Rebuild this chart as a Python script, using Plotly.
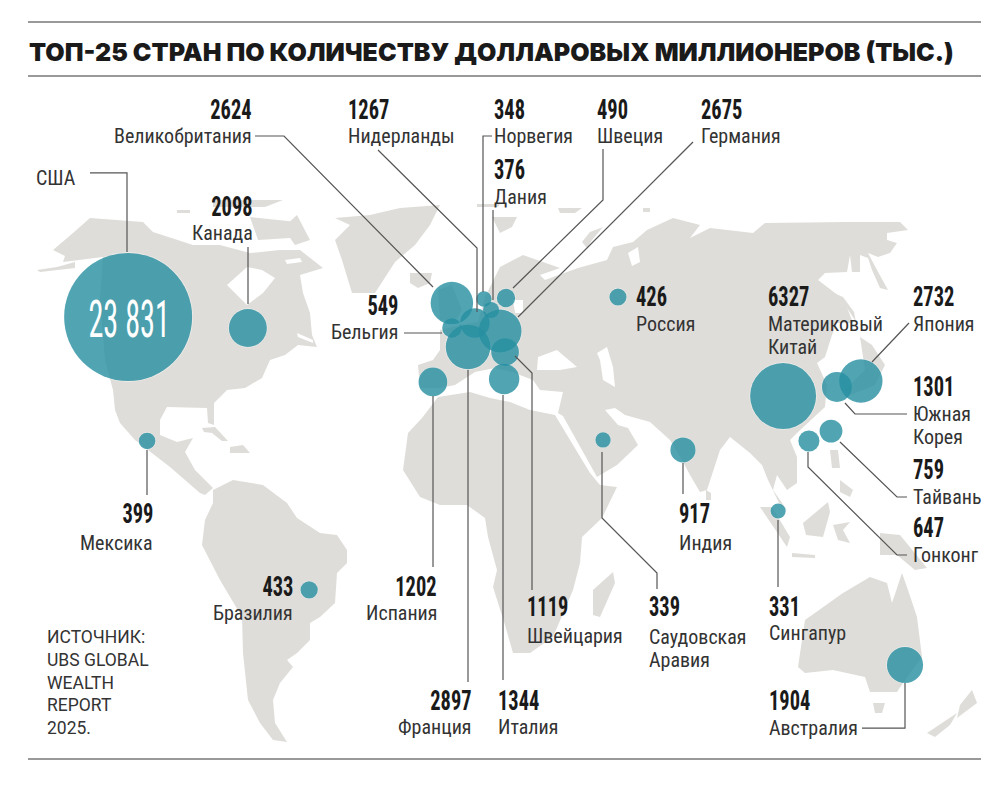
import numpy as np
import plotly.graph_objects as go

"""Top-25 countries by dollar millionaires, bubble map"""

countries = ["США", "Материковый\nКитай", "Франция", "Япония", "Германия", "Великобритания", "Канада",
             "Австралия", "Италия", "Южная\nКорея", "Нидерланды", "Испания", "Швейцария", "Индия",
             "Тайвань", "Гонконг", "Бельгия", "Швеция", "Бразилия", "Россия", "Мексика", "Дания",
             "Норвегия", "Саудовская\nАравия", "Сингапур"]
millionaires = [23831, 6327, 2897, 2732, 2675, 2624, 2098, 1904, 1344, 1301, 1267, 1202, 1119, 917,
                759, 647, 549, 490, 433, 426, 399, 376, 348, 339, 331]
lon = [-105.1, 105.5, 4.2, 130.5, 14.5, -1.0, -66.6, 144.7, 15.8, 122.8, 6.4, -7.1, 16.1, 73.3,
       120.9, 113.8, -1.0, 16.4, -46.9, 52.4, -99.0, 11.6, 9.3, 47.6, 103.9]
lat = [48.38, 31.2, 42.38, 34.78, 45.66, 50.96, 46.26, -40.22, 35.24, 33.38, 47.24, 34.56, 41.3, 17.18,
       22.26, 19.62, 46.26, 51.86, -22.0, 52.04, 19.62, 49.7, 51.68, 19.88, 0.0]

title_text = "ТОП-25 СТРАН ПО КОЛИЧЕСТВУ ДОЛЛАРОВЫХ МИЛЛИОНЕРОВ (ТЫС.)"
source_lines = ["ИСТОЧНИК:", "UBS GLOBAL", "WEALTH", "REPORT", "2025."]

W, H = 1000, 788
NARROW = "Roboto Condensed"


def merc(a):
    a = np.radians(np.asarray(a, dtype=float))
    return np.degrees(np.log(np.tan(np.pi / 4 + a / 2)))


def path(points, close=True):
    s = "M" + " L".join(f"{x / W:.4f},{1 - y / H:.4f}" for x, y in points)
    return s + (" Z" if close else "")


# land outlines, in page pixels
land = [
    # north america
    [(90,218),(143,222),(153,232),(193,245),(220,245),(250,253),(280,250),(300,250),(323,268),(300,275),(303,293),
     (310,313),(312,335),(317,347),(298,345),(285,355),(270,360),(262,378),(245,388),(227,390),(214,403),
     (214,425),(208,423),(207,408),(167,407),(160,420),(160,435),(177,442),(193,438),(185,452),(195,470),(213,488),
     (205,495),(200,493),(170,467),(135,440),(120,423),(115,410),(113,390),(105,360),(100,300),(103,257),(63,262),
     (65,256),(53,250),(73,233)],
    [(37,270),(57,267),(75,262),(75,268),(40,272)],
    # arctic islands, baffin
    [(213,200),(283,200),(265,207),(213,207)], [(177,210),(190,210),(190,213),(177,213)],
    [(250,217),(297,222),(290,238),(258,240)], [(283,228),(297,215),(310,240),(295,245)],
    # greenland, iceland
    [(335,218),(370,215),(400,208),(440,205),(430,225),(415,245),(395,262),(375,293),(352,293),(342,260),(335,240),(350,225)],
    [(410,273),(432,273),(430,283),(418,288),(410,283)],
    # caribbean
    [(202,428),(215,427),(228,441),(222,441),(212,433),(204,432)], [(230,447),(243,445),(250,453),(230,453)],
    # south america
    [(213,490),(233,480),(263,485),(287,503),(297,518),(320,533),(337,535),(347,550),(347,563),(337,573),(335,603),
     (320,617),(310,623),(310,640),(297,653),(287,660),(293,667),(280,683),(273,700),(275,723),(287,742),(273,740),
     (260,723),(248,700),(243,653),(242,617),(220,580),(202,545),(205,520),(213,503)],
    # africa, madagascar
    [(438,397),(422,418),(408,433),(403,470),(420,497),(440,505),(467,505),(485,518),(488,537),(497,570),(493,587),
     (505,625),(513,653),(530,653),(553,637),(573,590),(580,563),(582,537),(602,518),(617,487),(600,485),(590,473),
     (570,440),(555,415),(530,410),(510,402),(490,398),(470,392)],
    [(613,572),(615,583),(600,617),(593,615),(593,590)],
    # eurasia
    [(460,325),(478,322),(485,297),(500,267),(523,255),(560,268),(540,275),(545,280),(578,268),(607,260),(613,247),
     (633,242),(647,230),(673,218),(700,225),(690,238),(710,228),(753,233),(765,223),(847,222),(900,222),(908,230),
     (887,233),(887,240),(897,243),(890,253),(878,257),(868,253),(877,270),(888,290),(880,288),(872,270),(868,258),
     (860,255),(860,272),(852,272),(850,255),(847,272),(825,273),(818,280),(835,293),(843,298),(848,310),(853,323),
     (837,323),(832,335),(825,357),(817,363),(827,385),(825,407),(797,433),(790,440),(797,457),(797,483),(787,490),
     (777,475),(773,490),(787,510),(780,505),(768,480),(762,465),(750,453),(730,437),(720,450),(707,490),(700,492),
     (690,475),(682,460),(670,440),(650,422),(625,415),(615,408),(605,410),(618,425),(628,428),(638,445),(617,465),
     (597,477),(563,416),(558,413),(563,392),(540,390),(533,380),(512,372),(495,368),(475,372),(455,385),(440,388),
     (420,388),(418,365),(433,360),(440,350),(440,330)],
    # uk, arctic russia
    [(438,290),(452,285),(462,310),(455,322),(440,320)],
    [(492,217),(517,217),(512,227),(500,233)], [(477,204),(500,204),(498,207),(477,207)],
    [(558,208),(582,208),(575,213),(560,213)], [(643,208),(650,208),(650,212),(643,212)],
    [(582,242),(590,232),(603,227),(592,240),(587,248)],
    # sakhalin, japan
    [(838,295),(843,297),(854,312),(856,322),(851,314)],
    [(860,337),(872,345),(885,365),(875,385),(850,395),(845,390),(865,370)],
    # sri lanka, se asia
    [(706,490),(711,493),(711,500),(706,500)],
    [(760,507),(772,507),(790,537),(787,547)], [(792,553),(815,555),(815,558),(792,557)],
    [(803,523),(828,502),(830,512),(823,537),(806,535)], [(833,525),(850,522),(843,530),(850,543),(838,540)],
    [(830,450),(838,450),(840,468),(832,468)], [(840,480),(853,490),(850,497),(840,492)],
    [(880,533),(900,535),(927,568),(915,570),(897,555),(880,555)],
    # australia, tasmania, new zealand
    [(798,667),(805,620),(843,593),(870,577),(887,583),(892,603),(902,573),(908,590),(917,617),(922,657),(903,683),
     (897,692),(870,692),(865,677),(833,670),(805,673)],
    [(873,703),(885,703),(882,713),(875,713)],
    [(972,690),(977,703),(957,718),(960,705)], [(927,733),(957,713),(950,725),(935,737)],
]
# bays and inland seas painted back over the land
seas = [
    [(538,357),(557,350),(577,367),(560,370),(537,370)],
    [(597,353),(607,347),(613,367),(615,387),(603,380),(600,360)],
    [(513,300),(523,300),(523,313),(515,313)],
    [(227,285),(247,267),(262,270),(275,278),(263,293),(247,305)],
    [(257,247),(278,246),(278,249),(257,251)], [(285,260),(300,258),(302,262),(287,264)],
    [(297,333),(313,340),(313,343),(298,337)],
    [(628,253),(638,247),(640,262),(632,266)],
]

# (index in countries, anchor, x, number y, first name line y)
placement = [
    (5, "right", 252, 109, 136), (10, "left", 348, 109, 136), (22, "left", 494, 109, 136), (21, "left", 494, 169, 197),
    (17, "left", 597, 109, 136), (4, "left", 701, 109, 136), (6, "right", 253, 206, 233), (16, "right", 398, 305, 332),
    (19, "left", 636, 296, 324), (1, "left", 768, 296, 324), (3, "left", 913, 296, 324), (9, "left", 913, 386, 414),
    (14, "left", 913, 469, 497), (15, "left", 913, 527, 555), (20, "right", 153, 513, 543), (18, "right", 293, 586, 613),
    (11, "right", 437, 586, 613), (2, "right", 472, 700, 727), (8, "left", 498, 700, 727), (12, "left", 527, 606, 636),
    (23, "left", 649, 606, 637), (13, "left", 679, 513, 543), (24, "left", 769, 606, 633), (7, "left", 769, 700, 728),
]

leaders = [
    [(90,173),(127,173),(127,252)], [(255,136),(284,136),(433,287)], [(248,247),(248,304)],
    [(378,150),(477,248),(477,312)], [(492,136),(483,136),(483,292)], [(493,210),(493,300)],
    [(603,149),(603,200),(513,288)], [(693,142),(518,317)], [(404,333),(442,333)],
    [(147,450),(147,495)], [(433,396),(433,567)], [(468,370),(468,682)], [(503,395),(503,680)],
    [(515,356),(532,373),(532,590)], [(602,452),(602,518),(657,573),(657,589)], [(683,463),(683,494)],
    [(778,520),(778,587)], [(808,452),(808,467),(897,555),(907,555)], [(840,442),(897,497),(907,497)],
    [(845,403),(855,414),(907,414)], [(872,362),(909,323)], [(905,683),(905,728),(862,728)],
]

shapes = []
for poly in land:
    shapes.append(dict(type="path", path=path(poly), xref="paper", yref="paper", layer="below",
                       fillcolor="#dfddd9", line=dict(width=0)))
for poly in seas:
    shapes.append(dict(type="path", path=path(poly), xref="paper", yref="paper", layer="below",
                       fillcolor="white", line=dict(width=0)))
for pts in leaders:
    shapes.append(dict(type="path", path=path(pts, close=False), xref="paper", yref="paper",
                       line=dict(color="#555555", width=1.2)))
for y in [22, 76, 759]:
    shapes.append(dict(type="line", xref="paper", yref="paper", x0=28 / W, x1=981 / W, y0=1 - y / H, y1=1 - y / H,
                       line=dict(color="#777777", width=1.6)))


def txt(x, y, text, size=20, color="#333333", anchor="left", family=NARROW, weight=None):
    return dict(x=x / W, y=1 - y / H, xref="paper", yref="paper", text=text, showarrow=False, xanchor=anchor,
                yanchor="middle", align="left", borderpad=0, borderwidth=0,
                font=dict(family=family, size=size, color=color, weight=weight))


annotations = [txt(29, 52, title_text, size=25, color="#1a1a1a", family="Inter", weight=900)]
for i, anchor, x, y_num, y_name in placement:
    annotations.append(txt(x, y_num, str(millionaires[i]), size=28, color="#1a1a1a", anchor=anchor, weight="bold"))
    for k, part in enumerate(countries[i].split("\n")):
        annotations.append(txt(x, y_name + k * 23, part, anchor=anchor))
annotations.append(txt(36, 178, countries[0]))
annotations.append(txt(129, 319, f"{millionaires[0]:,}".replace(",", " "), size=52, color="white", anchor="center"))
annotations.append(txt(47, 682, "<br>".join(source_lines), size=17.5, family="Roboto"))

fig = go.Figure()
# thin light rim, then the fill on top so the european cluster reads as one blob
fig.add_trace(go.Scatter(
    x=lon, y=merc(lat), mode="markers", hoverinfo="skip",
    marker=dict(size=millionaires, sizemode="area", sizeref=2 * max(millionaires) / 129 ** 2, opacity=1,
                color="rgba(0,0,0,0)", line=dict(color="rgba(255,255,255,0.45)", width=1)),
))
fig.add_trace(go.Scatter(
    x=lon, y=merc(lat), mode="markers", hoverinfo="skip",
    marker=dict(size=millionaires, sizemode="area", sizeref=2 * max(millionaires) / 128 ** 2, opacity=1,
                color="rgba(38,142,160,0.8)", line=dict(width=0)),
))
fig.update_layout(
    width=W, height=H, margin=dict(l=0, r=0, t=0, b=0), paper_bgcolor="white", plot_bgcolor="white",
    showlegend=False, shapes=shapes, annotations=annotations,
    # 3.11 px per degree of longitude, 3.5 px per mercator degree, equator at y=511
    xaxis=dict(visible=False, range=[-455 / 3.11, (W - 455) / 3.11]),
    yaxis=dict(visible=False, range=[(511 - H) / 3.5, 511 / 3.5]),
)

# the figures in the picture are set very narrow, no installed font is that narrow so squeeze them sideways
squeeze = """
document.body.style.margin = '0';
var gd = document.getElementById('{plot_id}');
gd.querySelectorAll('.annotation').forEach(function (g) {
    var t = g.querySelector('text');
    if (!/^[0-9 ]+$/.test(t.textContent)) return;
    var a = gd.layout.annotations[+g.getAttribute('data-index')];
    var b = t.getBBox();
    var ax = a.xanchor === 'right' ? b.x + b.width : a.xanchor === 'left' ? b.x : b.x + b.width / 2;
    var sx = t.textContent.indexOf(' ') >= 0 ? 0.58 : 0.73;
    t.setAttribute('transform', 'translate(' + ax + ' 0) scale(' + sx + ' 1) translate(' + (-ax) + ' 0)');
});
"""
fig.write_html("out.html", config=dict(displayModeBar=False), post_script=squeeze)
